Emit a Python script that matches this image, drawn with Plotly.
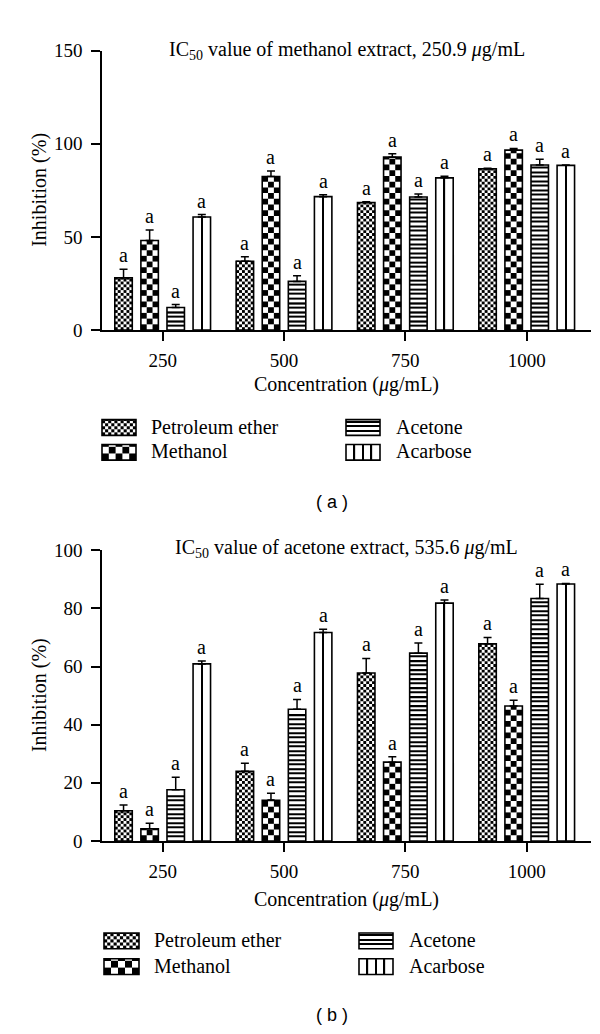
import numpy as np
import plotly.graph_objects as go

# ---------------- data ----------------
categories = ["250", "500", "750", "1000"]
series_names = ["Petroleum ether", "Methanol", "Acetone", "Acarbose"]

# Panel (a): methanol extract
a_petroleum = [28.0, 36.9, 68.4, 86.5]
a_petroleum_err = [4.6, 2.5, 0.4, 0.4]
a_methanol = [48.1, 82.4, 92.8, 96.6]
a_methanol_err = [5.6, 3.0, 1.9, 0.9]
a_acetone = [12.1, 26.1, 71.4, 88.6]
a_acetone_err = [1.6, 3.0, 1.6, 3.1]
a_acarbose = [60.7, 71.6, 81.7, 88.4]
a_acarbose_err = [1.3, 1.0, 0.9, 0.2]

# Panel (b): acetone extract
b_petroleum = [10.4, 24.0, 57.8, 67.8]
b_petroleum_err = [2.0, 2.7, 5.0, 2.2]
b_methanol = [4.2, 14.0, 27.1, 46.4]
b_methanol_err = [1.9, 2.4, 1.9, 2.0]
b_acetone = [17.6, 45.3, 64.6, 83.4]
b_acetone_err = [4.3, 3.4, 3.5, 4.9]
b_acarbose = [60.9, 71.7, 81.8, 88.4]
b_acarbose_err = [1.0, 1.1, 1.1, 0.2]

a_yticks = [0, 50, 100, 150]
b_yticks = [0, 20, 40, 60, 80, 100]
sig_letter = "a"

a_title = "IC<sub>50</sub> value of methanol extract, 250.9 <i>\u03bc</i>g/mL"
b_title = "IC<sub>50</sub> value of acetone extract, 535.6 <i>\u03bc</i>g/mL"
x_title = "Concentration (<i>\u03bc</i>g/mL)"
y_title = "Inhibition (%)"

# ---------------- layout constants ----------------
W, H = 600, 1034
PLOT_L, PLOT_R = 94, 583
X_RANGE = [-0.5, 3.53]
SLOT = 0.215
BAR_W = 0.144
LINE_W = 1.6
LINE_T = 1.3
SERIF = "Liberation Serif, Times New Roman, serif"
SANS = "Liberation Sans, Arial, sans-serif"

# pattern style per series: (kind, cell size in px)
styles = [("checker", 3.1), ("checker", 6.7), ("hlines", 4.6), ("vcols", 8.75)]

panels = [
    dict(xa="x", ya="y", top=33.3, bottom=318.5, yrange=[0, 150], yticks=a_yticks,
         title=a_title, title_y=33, xtitle_y=374,
         values=[a_petroleum, a_methanol, a_acetone, a_acarbose],
         errs=[a_petroleum_err, a_methanol_err, a_acetone_err, a_acarbose_err],
         leg_rows=(418, 443.3), leg_cols=((94, 128, 141), (338, 372, 386)),
         tag="( a )", tag_y=494),
    dict(xa="x2", ya="y2", top=543.3, bottom=840, yrange=[0, 100], yticks=b_yticks,
         title=b_title, title_y=541, xtitle_y=900,
         values=[b_petroleum, b_methanol, b_acetone, b_acarbose],
         errs=[b_petroleum_err, b_methanol_err, b_acetone_err, b_acarbose_err],
         leg_rows=(942, 968.3), leg_cols=((96, 131, 144), (351, 385, 399)),
         tag="( b )", tag_y=1018),
]
leg_pos = [(0, 0), (0, 1), (1, 0), (1, 1)]  # (column, row) per series
SWATCH_H = 16


def pattern_elements(kind, cell, cx, w, y0, y1, kx, ky):
    xs, bs, hs, ws = [], [], [], []
    if kind == "checker":
        ncol = max(1, int(round(w * kx / cell)))
        cw = w / ncol
        ch = cw * kx / ky
        nrow = int(np.ceil((y1 - y0) / ch - 1e-6))
        for r in range(nrow):
            b = y0 + r * ch
            h = min(ch, y1 - b)
            for c in range(ncol):
                if (r + c) % 2 == 0:
                    xs.append(cx - w / 2 + (c + 0.5) * cw)
                    bs.append(b)
                    hs.append(h)
                    ws.append(cw)
    elif kind == "hlines":
        sp = cell / ky
        t = LINE_T / ky
        k = 1
        while y0 + k * sp < y1 - 0.4 * sp:
            yy = y0 + k * sp
            xs.append(cx)
            bs.append(yy - t / 2)
            hs.append(t)
            ws.append(w)
            k += 1
    elif kind == "vcols":
        ncol = max(1, int(round(w * kx / cell)))
        cw = w / ncol
        t = LINE_T / kx
        for c in range(1, ncol):
            xs.append(cx - w / 2 + c * cw)
            bs.append(y0)
            hs.append(y1 - y0)
            ws.append(t)
    return xs, bs, hs, ws


def add_patterned(fig, xa, ya, cxs, y0s, y1s, w, kx, ky, style, errs=None):
    kind, cell = style
    X, B, Hh, Ww = [], [], [], []
    for cx, y0, y1 in zip(cxs, y0s, y1s):
        xs, bs, hs, ws = pattern_elements(kind, cell, cx, w, y0, y1, kx, ky)
        X += xs; B += bs; Hh += hs; Ww += ws
    if X:
        fig.add_trace(go.Bar(x=X, y=Hh, base=B, width=Ww, xaxis=xa, yaxis=ya,
                             marker=dict(color="black", line=dict(width=0)),
                             showlegend=False, hoverinfo="skip"))
    outline = dict(x=list(cxs), y=[b - a for a, b in zip(y0s, y1s)], base=list(y0s),
                   width=[w] * len(cxs), xaxis=xa, yaxis=ya,
                   marker=dict(color="rgba(0,0,0,0)", line=dict(color="black", width=LINE_W)),
                   showlegend=False, hoverinfo="skip")
    if errs is not None:
        outline["error_y"] = dict(type="data", symmetric=False, array=list(errs),
                                  arrayminus=[0] * len(errs), color="black",
                                  thickness=1.5, width=4)
    fig.add_trace(go.Bar(**outline))


fig = go.Figure()
annotations = []
layout_axes = {}
txt_font = dict(family=SERIF, size=20, color="black")

for pi, p in enumerate(panels):
    plot_w = PLOT_R - PLOT_L
    plot_h = p["bottom"] - p["top"]
    kx = plot_w / (X_RANGE[1] - X_RANGE[0])
    ky = plot_h / (p["yrange"][1] - p["yrange"][0])
    for si in range(4):
        vals = p["values"][si]
        errs = p["errs"][si]
        cxs = [i + (si - 1.5) * SLOT for i in range(len(categories))]
        add_patterned(fig, p["xa"], p["ya"], cxs, [0] * len(vals), vals, BAR_W, kx, ky,
                      styles[si], errs)
        for cx, v, e in zip(cxs, vals, errs):
            annotations.append(dict(x=cx, y=v + e, xref=p["xa"], yref=p["ya"], text=sig_letter,
                                    showarrow=False, yanchor="bottom", yshift=1,
                                    font=txt_font))
        # legend swatch in pixel overlay axes
        col, row = leg_pos[si]
        lx0, lx1, tx = p["leg_cols"][col]
        cy = p["leg_rows"][row]
        y_lo = H - (cy + SWATCH_H / 2)
        y_hi = H - (cy - SWATCH_H / 2)
        add_patterned(fig, "x3", "y3", [(lx0 + lx1) / 2], [y_lo], [y_hi], lx1 - lx0, 1, 1,
                      styles[si])
        annotations.append(dict(x=tx / W, y=1 - (cy - 1) / H, xref="paper", yref="paper",
                                text=series_names[si], showarrow=False, xanchor="left",
                                yanchor="middle", font=txt_font))
    cx_plot = (PLOT_L + PLOT_R) / 2 / W
    # panel title, axis titles and tag
    annotations.append(dict(x=cx_plot, y=1 - p["title_y"] / H, xref="paper",
                            yref="paper", text=p["title"], showarrow=False, yanchor="middle",
                            font=txt_font))
    annotations.append(dict(x=cx_plot, y=1 - p["xtitle_y"] / H, xref="paper",
                            yref="paper", text=x_title, showarrow=False, yanchor="middle",
                            font=txt_font))
    annotations.append(dict(x=31.5 / W, y=1 - (p["top"] + p["bottom"]) / 2 / H, xref="paper",
                            yref="paper", text=y_title, showarrow=False, textangle=-90,
                            xanchor="center", yanchor="middle", font=txt_font))
    annotations.append(dict(x=324 / W, y=1 - p["tag_y"] / H, xref="paper", yref="paper",
                            text=p["tag"], showarrow=False, yanchor="middle",
                            font=dict(family=SANS, size=18, color="black")))

    sfx = "" if pi == 0 else "2"
    layout_axes["xaxis" + sfx] = dict(
        domain=[PLOT_L / W, PLOT_R / W], range=X_RANGE, anchor="y" + sfx,
        tickmode="array", tickvals=list(range(len(categories))), ticktext=categories,
        showline=True, linecolor="black", linewidth=LINE_W, ticks="outside", ticklen=9,
        tickwidth=LINE_W, tickcolor="black", showgrid=False, zeroline=False,
        ticklabelstandoff=3,
        tickfont=dict(family=SERIF, size=19, color="black"), fixedrange=True)
    layout_axes["yaxis" + sfx] = dict(
        domain=[1 - p["bottom"] / H, 1 - p["top"] / H], range=p["yrange"], anchor="x" + sfx,
        tickmode="array", tickvals=p["yticks"],
        showline=True, linecolor="black", linewidth=LINE_W, ticks="outside", ticklen=9,
        tickwidth=LINE_W, tickcolor="black", showgrid=False, zeroline=False,
        ticklabelstandoff=5,
        tickfont=dict(family=SERIF, size=19, color="black"), fixedrange=True)

layout_axes["xaxis3"] = dict(domain=[0, 1], range=[0, W], anchor="y3", visible=False,
                             fixedrange=True)
layout_axes["yaxis3"] = dict(domain=[0, 1], range=[0, H], anchor="x3", visible=False,
                             fixedrange=True)

fig.update_layout(
    width=W, height=H, margin=dict(l=0, r=0, t=0, b=0),
    paper_bgcolor="white", plot_bgcolor="rgba(0,0,0,0)",
    barmode="overlay", showlegend=False, annotations=annotations,
    **layout_axes)

fig.write_html("out.html")
